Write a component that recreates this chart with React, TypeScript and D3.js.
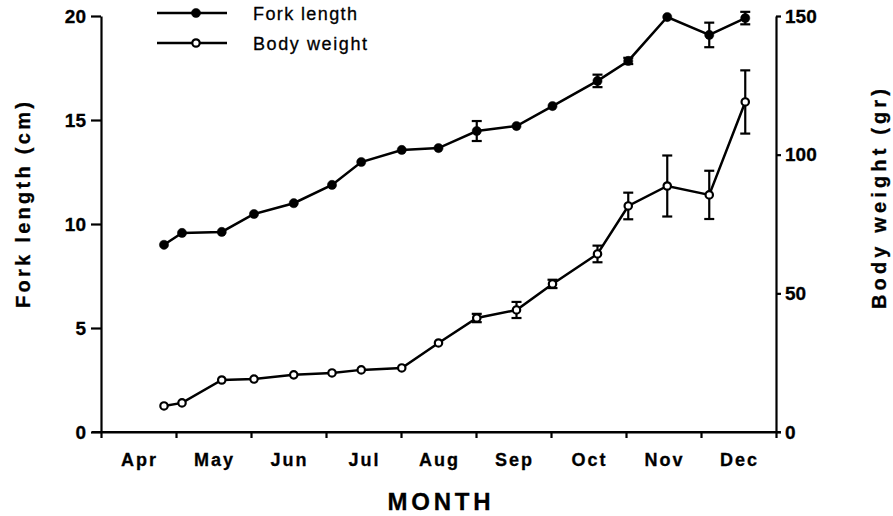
import * as d3 from 'd3'
import { useEffect, useRef } from 'react'

const months = ['Apr', 'May', 'Jun', 'Jul', 'Aug', 'Sep', 'Oct', 'Nov', 'Dec']
// sampling dates as fractional month index (0 = 1 Apr)
const sampleTimes = [0.84, 1.08, 1.61, 2.04, 2.57, 3.08, 3.47, 4.01, 4.5, 5.01, 5.54, 6.02, 6.62, 7.03, 7.55, 8.11, 8.59]
const forkLength = [9.0, 9.57, 9.62, 10.48, 11.0, 11.88, 12.98, 13.56, 13.65, 14.47, 14.71, 15.67, 16.88, 17.84, 19.95, 19.09, 19.9]
const forkLengthErr = [0, 0, 0, 0, 0, 0, 0, 0, 0, 0.48, 0, 0, 0.3, 0.15, 0, 0.59, 0.3]
const bodyWeight = [9.4, 10.5, 18.75, 19.1, 20.6, 21.3, 22.4, 23.1, 32.1, 41.1, 44.0, 53.4, 64.2, 81.5, 88.7, 85.5, 119]
const bodyWeightErr = [0, 0, 0, 0, 0, 0, 0, 0, 0, 1.5, 2.9, 1.5, 3, 4.8, 11, 8.7, 11.4]
const forkTicks = [0, 5, 10, 15, 20]
const weightTicks = [0, 50, 100, 150]

const FONT = '"Liberation Sans", Arial, Helvetica, sans-serif'

export default function App() {
  const ref = useRef<SVGSVGElement>(null)

  useEffect(() => {
    if (!ref.current) return
    const width = 893
    const height = 516
    const left = 101
    const right = 776
    const top = 16
    const bottom = 432

    const x = d3.scaleLinear().domain([0, months.length]).range([left, right])
    const yL = d3.scaleLinear().domain([0, 20]).range([bottom, top])
    const yR = d3.scaleLinear().domain([0, 150]).range([bottom, top])

    const svg = d3.select(ref.current).attr('width', width).attr('height', height)
    const g = svg.append('g')

    // left axis
    const axL = g.append('g')
      .attr('transform', `translate(${left},0)`)
      .call(d3.axisLeft(yL).tickValues(forkTicks).tickSize(10).tickSizeOuter(0).tickPadding(5) as any)
    // right axis
    const axR = g.append('g')
      .attr('transform', `translate(${right},0)`)
      .call(d3.axisRight(yR).tickValues(weightTicks).tickSize(5).tickSizeOuter(0).tickPadding(4) as any)
    // bottom axis: ticks at month boundaries
    const axB = g.append('g')
      .attr('transform', `translate(0,${bottom})`)
      .call(d3.axisBottom(x).tickValues(d3.range(months.length + 1)).tickSize(6).tickSizeOuter(0).tickFormat(() => '') as any)

    for (const ax of [axL, axR, axB]) {
      ax.selectAll('path,line').attr('stroke', '#000').attr('stroke-width', 2.2)
      ax.selectAll('text')
        .attr('font-family', FONT)
        .attr('font-weight', 'bold')
        .attr('font-size', 19)
        .attr('fill', '#000')
        .attr('stroke', '#000')
        .attr('stroke-width', 0.3)
    }
    // x axis extends a little past both y axes
    g.append('line')
      .attr('x1', left - 9).attr('x2', right + 5)
      .attr('y1', bottom).attr('y2', bottom)
      .attr('stroke', '#000').attr('stroke-width', 2.2)

    const bold = (sel: any) => sel
      .attr('font-family', FONT)
      .attr('font-weight', 'bold')
      .attr('stroke', '#000')
      .attr('stroke-width', 0.3)

    // month labels centred between ticks
    g.selectAll('text.month').data(months).enter()
      .append('text')
      .attr('class', 'month')
      .attr('x', (_d, i) => x(i + 0.5) + 1)
      .attr('y', 466)
      .attr('text-anchor', 'middle')
      .attr('font-size', 18)
      .attr('letter-spacing', 2)
      .call(bold)
      .text(d => d)

    // axis titles
    g.append('text')
      .attr('transform', 'translate(30,205) rotate(-90)')
      .attr('text-anchor', 'middle')
      .attr('font-size', 20)
      .attr('textLength', 206).attr('lengthAdjust', 'spacing')
      .call(bold)
      .text('Fork length (cm)')
    g.append('text')
      .attr('transform', 'translate(886,199) rotate(-90)')
      .attr('text-anchor', 'middle')
      .attr('font-size', 20)
      .attr('textLength', 220).attr('lengthAdjust', 'spacing')
      .call(bold)
      .text('Body weight (gr)')
    g.append('text')
      .attr('x', 439).attr('y', 510)
      .attr('text-anchor', 'middle')
      .attr('font-size', 24)
      .attr('textLength', 103).attr('lengthAdjust', 'spacing')
      .call(bold)
      .text('MONTH')

    const series = [
      { values: forkLength, err: forkLengthErr, y: yL, filled: true },
      { values: bodyWeight, err: bodyWeightErr, y: yR, filled: false },
    ]

    series.forEach(s => {
      const pts = sampleTimes.map((t, i) => ({ t, v: s.values[i], e: s.err[i] }))
      const line = d3.line<{ t: number, v: number }>()
        .x(d => x(d.t))
        .y(d => s.y(d.v))
      g.append('path')
        .datum(pts)
        .attr('fill', 'none')
        .attr('stroke', '#000')
        .attr('stroke-width', 2.5)
        .attr('d', line)

      // error bars
      const eb = g.append('g').attr('stroke', '#000').attr('stroke-width', 2.2)
      pts.filter(d => d.e > 0).forEach(d => {
        const cx = x(d.t)
        const y1 = s.y(d.v + d.e)
        const y2 = s.y(d.v - d.e)
        eb.append('line').attr('x1', cx).attr('x2', cx).attr('y1', y1).attr('y2', y2)
        eb.append('line').attr('x1', cx - 5).attr('x2', cx + 5).attr('y1', y1).attr('y2', y1)
        eb.append('line').attr('x1', cx - 5).attr('x2', cx + 5).attr('y1', y2).attr('y2', y2)
      })

      g.selectAll(null).data(pts).enter()
        .append('circle')
        .attr('cx', d => x(d.t))
        .attr('cy', d => s.y(d.v))
        .attr('r', s.filled ? 4.6 : 3.7)
        .attr('fill', s.filled ? '#000' : '#fff')
        .attr('stroke', '#000')
        .attr('stroke-width', s.filled ? 0.5 : 2.2)
    })

    // legend
    const legend = [
      { label: 'Fork length', filled: true, y: 13, len: 104 },
      { label: 'Body weight', filled: false, y: 43, len: 114 },
    ]
    legend.forEach(l => {
      g.append('line')
        .attr('x1', 157).attr('x2', 227)
        .attr('y1', l.y).attr('y2', l.y)
        .attr('stroke', '#000').attr('stroke-width', 2.5)
      g.append('circle')
        .attr('cx', 196).attr('cy', l.y)
        .attr('r', l.filled ? 4.6 : 3.7)
        .attr('fill', l.filled ? '#000' : '#fff')
        .attr('stroke', '#000')
        .attr('stroke-width', l.filled ? 0.5 : 2.2)
      g.append('text')
        .attr('x', 253).attr('y', l.y + 7)
        .attr('font-family', FONT)
        .attr('font-size', 18)
        .attr('stroke', '#000')
        .attr('stroke-width', 0.3)
        .attr('textLength', l.len).attr('lengthAdjust', 'spacing')
        .text(l.label)
    })

    return () => {
      g.remove()
    }
  }, [])

  return (
    <div style={{ position: 'absolute', left: 0, top: 0 }}>
      <svg ref={ref} style={{ display: 'block', background: '#fff' }} />
    </div>
  )
}
